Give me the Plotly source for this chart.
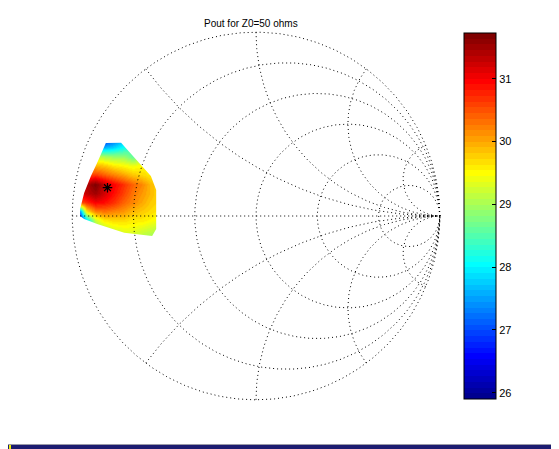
import numpy as np
import plotly.graph_objects as go

# ---- data ------------------------------------------------------------------
title_text = "Pout for Z0=50 ohms"

# load reflection coefficient grid (real / imag parts) of the load-pull sweep
gamma_re = [-0.975, -0.925, -0.875, -0.825, -0.775, -0.725, -0.675, -0.625, -0.575, -0.525]
gamma_im = [0.425, 0.375, 0.325, 0.275, 0.225, 0.175, 0.125, 0.075, 0.025, -0.025, -0.075, -0.125]

# Pout (dBm), rows follow gamma_im (top to bottom), columns follow gamma_re
pout = [
    [27.0, 27.0, 26.9, 26.6, 27.1, 27.6, 28.0, 28.3, 28.5, 28.7],
    [27.4, 27.5, 27.6, 27.6, 27.8, 28.1, 28.5, 28.8, 29.0, 29.2],
    [29.0, 29.1, 29.2, 29.0, 28.9, 28.9, 28.6, 28.8, 29.0, 29.2],
    [29.8, 29.8, 29.9, 29.8, 29.6, 29.5, 29.4, 29.5, 29.6, 29.7],
    [30.6, 30.6, 30.6, 30.4, 30.2, 30.0, 29.8, 29.7, 29.6, 29.6],
    [31.3, 31.4, 31.7, 31.3, 31.0, 30.7, 30.4, 30.2, 29.9, 29.7],
    [31.0, 31.3, 31.5, 31.2, 30.9, 30.6, 30.3, 30.1, 29.9, 29.7],
    [30.4, 30.7, 31.0, 30.9, 30.7, 30.4, 30.2, 30.0, 29.8, 29.7],
    [26.5, 29.6, 30.2, 30.3, 30.2, 30.1, 29.9, 29.8, 29.7, 29.6],
    [25.9, 27.8, 29.2, 29.6, 29.7, 29.7, 29.6, 29.6, 29.5, 29.4],
    [26.0, 27.5, 28.8, 29.1, 29.3, 29.4, 29.4, 29.3, 29.2, 29.1],
    [26.0, 27.4, 28.6, 28.9, 29.1, 29.1, 29.1, 29.0, 28.9, 28.8],
]

# outline of the measured region (gamma plane)
region_re = [-0.817, -0.734, -0.572, -0.543, -0.543, -0.565, -0.717, -0.864, -0.935, -0.957, -0.957, -0.935, -0.898, -0.864]
region_im = [0.397, 0.398, 0.217, 0.141, -0.071, -0.109, -0.091, -0.043, -0.016, 0.000, 0.038, 0.125, 0.217, 0.290]

# max Pout point
max_re = [-0.808]
max_im = [0.154]

# colour limits and ticks
cmin, cmax = 25.9, 31.73
cbar_ticks = [26, 27, 28, 29, 30, 31]

# smith chart grid values
r_values = [0.2, 0.5, 1, 2, 5]
x_values = [0.5, 1, 2, 5]


def jet(m=64):
    # same construction as MATLAB jet(m)
    n = int(np.ceil(m / 4))
    u = np.concatenate([np.arange(1, n + 1) / n, np.ones(n - 1), np.arange(n, 0, -1) / n])
    g = int(np.ceil(n / 2)) - (1 if m % 4 == 1 else 0) + np.arange(1, len(u) + 1)
    r = g + n
    b = g - n
    J = np.zeros((m, 3))
    for col, idx in ((0, r), (1, g), (2, b)):
        ok = (idx >= 1) & (idx <= m)
        J[idx[ok] - 1, col] = u[ok]
    return J


def stepped_scale(cmap):
    m = len(cmap)
    scale = []
    for k, c in enumerate(cmap):
        rgb = "rgb(%d,%d,%d)" % tuple(np.round(c * 255))
        scale.append([k / m, rgb])
        scale.append([(k + 1) / m, rgb])
    return scale


# ---- smith chart grid -------------------------------------------------------
gx, gy = [], []
t = np.linspace(0, 2 * np.pi, 600)
for r in [0] + r_values:
    c, rad = r / (1 + r), 1 / (1 + r)
    gx += list(c + rad * np.cos(t)) + [None]
    gy += list(rad * np.sin(t)) + [None]
rr = np.concatenate([np.linspace(0, 1, 150), np.geomspace(1, 2000, 300)])
for x in x_values:
    for s in (1, -1):
        gam = (rr + 1j * s * x - 1) / (rr + 1j * s * x + 1)
        gx += list(gam.real) + [None]
        gy += list(gam.imag) + [None]
gx += [-1, 1, None]
gy += [0, 0, None]

fig = go.Figure()

fig.add_trace(
    go.Heatmap(
        x=gamma_re,
        y=gamma_im[::-1],
        z=pout[::-1],
        zsmooth="best",
        zmin=cmin,
        zmax=cmax,
        colorscale=stepped_scale(jet(64)),
        colorbar=dict(
            x=(464 - 63) / 386,
            xanchor="left",
            y=0.5,
            yanchor="middle",
            len=366,
            lenmode="pixels",
            thickness=32,
            thicknessmode="pixels",
            xpad=0,
            ypad=0,
            outlinecolor="black",
            outlinewidth=1,
            tickvals=cbar_ticks,
            ticks="inside",
            ticklen=4,
            tickcolor="black",
            tickfont=dict(family="Liberation Sans, Arial", size=11, color="black"),
        ),
        hoverinfo="skip",
    )
)

# white mask outside the measured region (outer box with region as a hole)
bx = [-1.01, -0.49, -0.49, -1.01, -1.01]
by = [-0.16, -0.16, 0.46, 0.46, -0.16]
fig.add_trace(
    go.Scatter(
        x=bx + [None] + region_re + [region_re[0]],
        y=by + [None] + region_im + [region_im[0]],
        mode="none",
        fill="toself",
        fillcolor="white",
        hoverinfo="skip",
    )
)

fig.add_trace(
    go.Scatter(
        x=gx,
        y=gy,
        mode="lines",
        line=dict(color="black", width=1, dash="1px,3px"),
        hoverinfo="skip",
    )
)

fig.add_trace(
    go.Scatter(
        x=max_re,
        y=max_im,
        mode="markers",
        marker=dict(symbol="asterisk-open", size=8, color="black",
                    line=dict(color="black", width=1.2)),
        hoverinfo="skip",
    )
)

# desktop taskbar strip visible at the bottom of the screenshot
shapes = [
    dict(type="rect", xref="paper", yref="paper", x0=-63 / 386, x1=496 / 386 + 0.01,
         y0=(409 - 450) / 386, y1=(409 - 445) / 386, fillcolor="#1c1c70", line_width=0),
    dict(type="rect", xref="paper", yref="paper", x0=-63 / 386, x1=496 / 386 + 0.01,
         y0=(409 - 445) / 386, y1=(409 - 444) / 386, fillcolor="#9a9aa8", line_width=0),
    dict(type="rect", xref="paper", yref="paper", x0=-54 / 386, x1=-52 / 386,
         y0=(409 - 450) / 386, y1=(409 - 445) / 386, fillcolor="#f0f000", line_width=0),
]

# the page body adds an 8px offset, so the figure is 8px smaller on the left/top
fig.update_layout(
    width=551,
    height=441,
    margin=dict(l=55, r=110, t=15, b=40),
    paper_bgcolor="white",
    plot_bgcolor="white",
    showlegend=False,
    xaxis=dict(range=[-1.05, 1.05], visible=False),
    yaxis=dict(range=[-1.05, 1.05], visible=False),
    shapes=shapes,
    annotations=[
        dict(
            text=title_text,
            x=(251 - 63) / 386,
            y=(409 - 23.5) / 386,
            xref="paper",
            yref="paper",
            xanchor="center",
            yanchor="middle",
            showarrow=False,
            font=dict(family="Liberation Sans, Arial", size=10, color="black"),
        )
    ],
)

fig.write_html("out.html")
